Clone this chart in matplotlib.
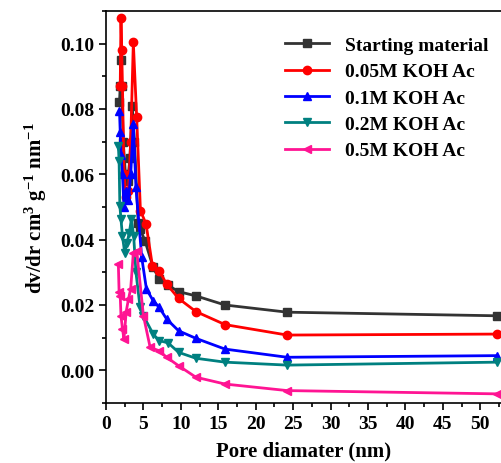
import matplotlib
matplotlib.use("Agg")
import matplotlib.pyplot as plt
from matplotlib.ticker import MultipleLocator

plt.rcParams['font.family'] = ['Liberation Serif', 'DejaVu Serif']
plt.rcParams['font.weight'] = 'bold'
plt.rcParams['mathtext.fontset'] = 'custom'
plt.rcParams['mathtext.rm'] = 'Liberation Serif:bold'
plt.rcParams['mathtext.it'] = 'Liberation Serif:bold'
plt.rcParams['mathtext.bf'] = 'Liberation Serif:bold'

labels = ["Starting material", "0.05M KOH Ac", "0.1M KOH Ac", "0.2M KOH Ac", "0.5M KOH Ac"]
colors = ["#333333", "#ff0000", "#0000ff", "#008080", "#ff1493"]
markers = ["s", "o", "^", "v", "<"]

x_start = [1.8, 1.9, 2.0, 2.1, 2.3, 2.6, 2.9, 3.2, 3.5, 3.8, 4.3, 4.55, 5.2, 6.3, 7.1, 8.3, 9.7, 12.0, 15.9, 24.2, 52.2]
y_start = [0.082, 0.087, 0.095, 0.087, 0.070, 0.060, 0.058, 0.065, 0.081, 0.070, 0.045, 0.0433, 0.0397, 0.0315, 0.028, 0.026, 0.0241, 0.0228, 0.020, 0.0178, 0.0167]

x_005 = [1.9, 2.0, 2.1, 2.2, 2.4, 2.7, 3.0, 3.3, 3.65, 4.1, 4.6, 5.35, 6.2, 7.1, 8.1, 9.7, 12.0, 15.9, 24.2, 52.2]
y_005 = [0.087, 0.108, 0.098, 0.087, 0.060, 0.053, 0.055, 0.070, 0.1004, 0.0774, 0.0489, 0.0448, 0.032, 0.0305, 0.0264, 0.022, 0.018, 0.014, 0.0108, 0.0111]

x_01 = [1.8, 1.9, 2.0, 2.2, 2.4, 2.7, 3.0, 3.3, 3.65, 4.0, 4.77, 5.4, 6.3, 7.1, 8.1, 9.7, 12.0, 15.9, 24.2, 52.2]
y_01 = [0.0795, 0.073, 0.066, 0.060, 0.050, 0.055, 0.052, 0.060, 0.0754, 0.056, 0.0346, 0.0249, 0.0213, 0.0193, 0.0157, 0.0121, 0.0098, 0.0065, 0.004, 0.0045]

x_02 = [1.65, 1.75, 1.85, 2.0, 2.2, 2.5, 2.8, 3.1, 3.4, 3.7, 4.0, 4.55, 5.0, 6.3, 7.1, 8.3, 9.7, 12.0, 15.9, 24.2, 52.2]
y_02 = [0.0688, 0.064, 0.0504, 0.0463, 0.041, 0.036, 0.039, 0.042, 0.0463, 0.041, 0.030, 0.0193, 0.0167, 0.0111, 0.0091, 0.0084, 0.0055, 0.0037, 0.0025, 0.0016, 0.0025]

x_05 = [1.65, 1.75, 1.9, 2.0, 2.2, 2.4, 2.7, 3.0, 3.3, 3.65, 4.1, 5.0, 5.9, 7.1, 8.1, 9.7, 12.0, 15.9, 24.2, 52.2]
y_05 = [0.0325, 0.0239, 0.0228, 0.0167, 0.0127, 0.0096, 0.018, 0.0218, 0.025, 0.036, 0.0366, 0.0167, 0.007, 0.006, 0.004, 0.0014, -0.0021, -0.0042, -0.0062, -0.0072]

xs = [x_start, x_005, x_01, x_02, x_05]
ys = [y_start, y_005, y_01, y_02, y_05]

fig = plt.figure(figsize=(5.01, 4.64), dpi=100)
ax = fig.add_axes([106/501, 60/464, 396/501, 392/464])

for x, y, lab, c, m in zip(xs, ys, labels, colors, markers):
    ax.plot(x, y, color=c, marker=m, markersize=6, linewidth=2, label=lab)

ax.set_xlim(0, 52.9)
ax.set_ylim(-0.01, 0.11)
ax.xaxis.set_major_locator(MultipleLocator(5))
ax.xaxis.set_minor_locator(MultipleLocator(2.5))
ax.yaxis.set_major_locator(MultipleLocator(0.02))
ax.yaxis.set_minor_locator(MultipleLocator(0.01))
ax.yaxis.set_major_formatter(matplotlib.ticker.FormatStrFormatter('%.2f'))
ax.tick_params(axis='both', which='major', direction='out', length=5, width=1.2, labelsize=14)
ax.tick_params(axis='both', which='minor', direction='out', length=3, width=1.2)
ax.tick_params(top=False, right=False)
ax.spines['right'].set_visible(False)
for s in ['left', 'bottom', 'top']:
    ax.spines[s].set_linewidth(1.2)

ax.set_xlabel("Pore diamater (nm)", fontsize=15, fontweight='bold', labelpad=6)
ax.set_ylabel(r"dv/dr cm$^{3}$ g$^{-1}$ nm$^{-1}$", fontsize=15, fontweight='bold', labelpad=8)

leg = ax.legend(loc='upper right', frameon=False, fontsize=14, handlelength=2.3,
                borderaxespad=0.3, labelspacing=0.45, bbox_to_anchor=(1.0, 0.97))

fig.savefig("out.png", dpi=100)
